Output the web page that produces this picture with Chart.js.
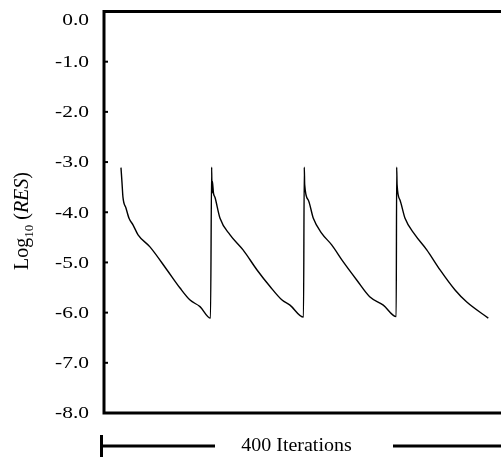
<!DOCTYPE html>
<html>
<head>
<meta charset="utf-8">
<script src="https://cdn.jsdelivr.net/npm/chart.js@4.4.1/dist/chart.umd.min.js"></script>
<style>
  html, body { margin: 0; padding: 0; background: #fff; }
  #wrap { width: 501px; height: 458px; position: relative; }
</style>
</head>
<body>
<div id="wrap"><canvas id="chart"></canvas></div>
<script>
// iteration number (400 iterations across the plot)
const iterations = [
  17.1, 18.1, 19.1, 22.2, 25.2, 29.2, 34.3, 46.3, 63.5, 76.6, 86.7, 96.7, 107.3,
  108.5, 108.8, 109.2, 110.3, 111.8, 116.9, 127.0, 140.1, 154.2, 167.3, 179.4, 187.4, 201.0,
  201.8, 202.2, 205.9, 210.9, 219.4, 229.4, 241.1, 254.6, 268.0, 281.4, 294.4,
  294.9, 295.3, 298.3, 303.3, 313.4, 325.2, 338.6, 353.7, 365.5, 387.2
];
// log10 of the residual
const logRes = [
  -3.11, -3.40, -3.70, -3.92, -4.12, -4.25, -4.45, -4.69, -5.15, -5.51, -5.75, -5.88, -6.11,
  -3.10, -3.62, -3.38, -3.62, -3.70, -4.12, -4.45, -4.75, -5.15, -5.48, -5.75, -5.85, -6.09,
  -3.10, -3.45, -3.76, -4.12, -4.42, -4.65, -4.99, -5.35, -5.69, -5.85, -6.08,
  -3.10, -3.45, -3.76, -4.12, -4.45, -4.75, -5.15, -5.55, -5.79, -6.11
];
const yTicks = [0, -1, -2, -3, -4, -5, -6, -7, -8];
const spanLabel = "400 Iterations";
const spanIters = 400;

const serif = "'Liberation Serif', 'Times New Roman', serif";

// frame, inside ticks, labels and the iteration bar drawn by hand
const decorPlugin = {
  id: "decor",
  afterDraw(chart) {
    const ctx = chart.ctx;
    const xs = chart.scales.x, ys = chart.scales.y;
    const left = xs.getPixelForValue(0);
    const right = chart.width;
    const top = ys.getPixelForValue(0);
    const bottom = ys.getPixelForValue(-8);
    ctx.save();
    ctx.strokeStyle = "#000";
    ctx.fillStyle = "#000";
    ctx.lineWidth = 3;
    ctx.beginPath();
    ctx.moveTo(right, top);
    ctx.lineTo(left, top);
    ctx.lineTo(left, bottom);
    ctx.lineTo(right, bottom);
    ctx.stroke();

    // small ticks pointing in, and tick labels
    ctx.lineWidth = 2;
    yTicks.forEach((v) => {
      const y = ys.getPixelForValue(v);
      ctx.beginPath();
      ctx.moveTo(left, y);
      ctx.lineTo(left + 4, y);
      ctx.stroke();
      ctx.save();
      ctx.translate(89, Math.max(y + 1, top + 9));
      ctx.scale(1.3, 1);
      ctx.font = "16.5px " + serif;
      ctx.textAlign = "right";
      ctx.textBaseline = "middle";
      ctx.fillText(v.toFixed(1), 0, 0);
      ctx.restore();
    });

    // y title: Log10 (RES)
    ctx.save();
    ctx.translate(28, 270);
    ctx.rotate(-Math.PI / 2);
    ctx.textAlign = "left";
    ctx.textBaseline = "alphabetic";
    let x = 0;
    ctx.font = "20px " + serif;
    ctx.fillText("Log", x, 0);
    x += ctx.measureText("Log").width;
    ctx.font = "13px " + serif;
    ctx.fillText("10", x, 5);
    x += ctx.measureText("10").width;
    ctx.font = "20px " + serif;
    ctx.fillText(" (", x, 0);
    x += ctx.measureText(" (").width;
    ctx.font = "italic 20px " + serif;
    ctx.fillText("RES", x, 0);
    x += ctx.measureText("RES").width;
    ctx.font = "20px " + serif;
    ctx.fillText(")", x, 0);
    ctx.restore();

    // bar under the plot showing the iteration span
    const yb = 446;
    const xe = xs.getPixelForValue(spanIters);
    const xm = (left + xe) / 2 - 6;
    ctx.save();
    ctx.font = "18px " + serif;
    ctx.textAlign = "center";
    ctx.textBaseline = "middle";
    ctx.translate(xm, yb);
    ctx.scale(1.11, 1);
    ctx.fillText(spanLabel, 0, 0);
    ctx.restore();
    ctx.lineWidth = 3;
    ctx.beginPath();
    ctx.moveTo(left - 2, yb);
    ctx.lineTo(215, yb);
    ctx.moveTo(393, yb);
    ctx.lineTo(xe, yb);
    ctx.moveTo(left - 2.5, yb - 11);
    ctx.lineTo(left - 2.5, yb + 11);
    ctx.stroke();
    ctx.restore();
  }
};

new Chart(document.getElementById("chart"), {
  type: "line",
  data: {
    datasets: [{
      data: iterations.map((it, i) => ({ x: it, y: logRes[i] })),
      borderColor: "#000",
      borderWidth: 1.4,
      pointRadius: 0,
      cubicInterpolationMode: "monotone",
      fill: false
    }]
  },
  options: {
    responsive: true,
    maintainAspectRatio: false,
    animation: false,
    layout: { padding: { left: 104, top: 11.5, right: 0, bottom: 45 } },
    plugins: { legend: { display: false }, tooltip: { enabled: false } },
    scales: {
      x: { type: "linear", min: 0, max: spanIters, display: false },
      y: { type: "linear", min: -8, max: 0, display: false }
    }
  },
  plugins: [decorPlugin]
});
</script>
</body>
</html>
